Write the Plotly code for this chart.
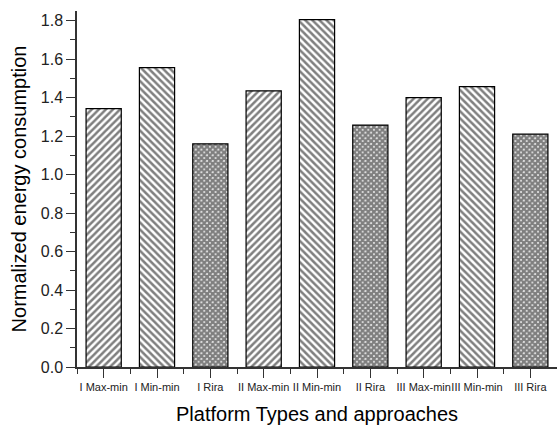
import plotly.graph_objects as go

categories = ["I Max-min", "I Min-min", "I Rira",
              "II Max-min", "II Min-min", "II Rira",
              "III Max-min", "III Min-min", "III Rira"]
values = [1.343, 1.556, 1.160, 1.435, 1.805, 1.257, 1.400, 1.457, 1.210]
patterns = ["/", "\\", "x", "/", "\\", "x", "/", "\\", "x"]
y_ticks = [0.0, 0.2, 0.4, 0.6, 0.8, 1.0, 1.2, 1.4, 1.6, 1.8]

x_pos = list(range(len(categories)))

FONT = "Liberation Sans, Arial, sans-serif"

fig = go.Figure(go.Bar(
    x=x_pos,
    y=values,
    width=0.66,
    marker=dict(
        color="white",
        line=dict(color="black", width=1.2),
        pattern=dict(shape=patterns, fgcolor="black", bgcolor="white",
                     size=[5 if p != "x" else 4 for p in patterns],
                     solidity=[0.5 if p != "x" else 0.85 for p in patterns],
                     fillmode="overlay"),
    ),
))

fig.update_layout(
    width=557, height=425,
    margin=dict(l=77, r=0, t=11, b=58),
    paper_bgcolor="white", plot_bgcolor="white",
    showlegend=False,
    font=dict(family=FONT, color="black"),
)

fig.update_xaxes(
    range=[-0.5, 8.5],
    tickvals=x_pos, ticktext=categories,
    tickangle=0, automargin=False,
    tickfont=dict(size=11, family=FONT, color="#222"),
    ticks="outside", ticklen=9, tickwidth=1.2, tickcolor="#333",
    showline=True, linecolor="#333", linewidth=1.5,
    showgrid=False, zeroline=False,
    minor=dict(ticks="outside", ticklen=5, tickwidth=1.2, tickcolor="#333",
               tick0=0.5, dtick=1, showgrid=False),
    title=dict(text="Platform Types and approaches", font=dict(size=20, family=FONT)),
)

fig.update_yaxes(
    range=[0, 1.85],
    tickvals=y_ticks, ticktext=[f"{v:.1f}" for v in y_ticks],
    automargin=False,
    tickfont=dict(size=16, family=FONT, color="#222"),
    ticks="outside", ticklen=9, tickwidth=1.2, tickcolor="#333",
    showline=True, linecolor="#333", linewidth=1.5,
    showgrid=False, zeroline=False,
    minor=dict(ticks="outside", ticklen=5, tickwidth=1.2, tickcolor="#333",
               tick0=0.1, dtick=0.2, showgrid=False),
    title=dict(text="Normalized energy consumption", font=dict(size=20, family=FONT), standoff=9),
)

fig.write_html("out.html",
               config={"displayModeBar": False},
               post_script="document.body.style.margin='0';document.documentElement.style.margin='0';")
